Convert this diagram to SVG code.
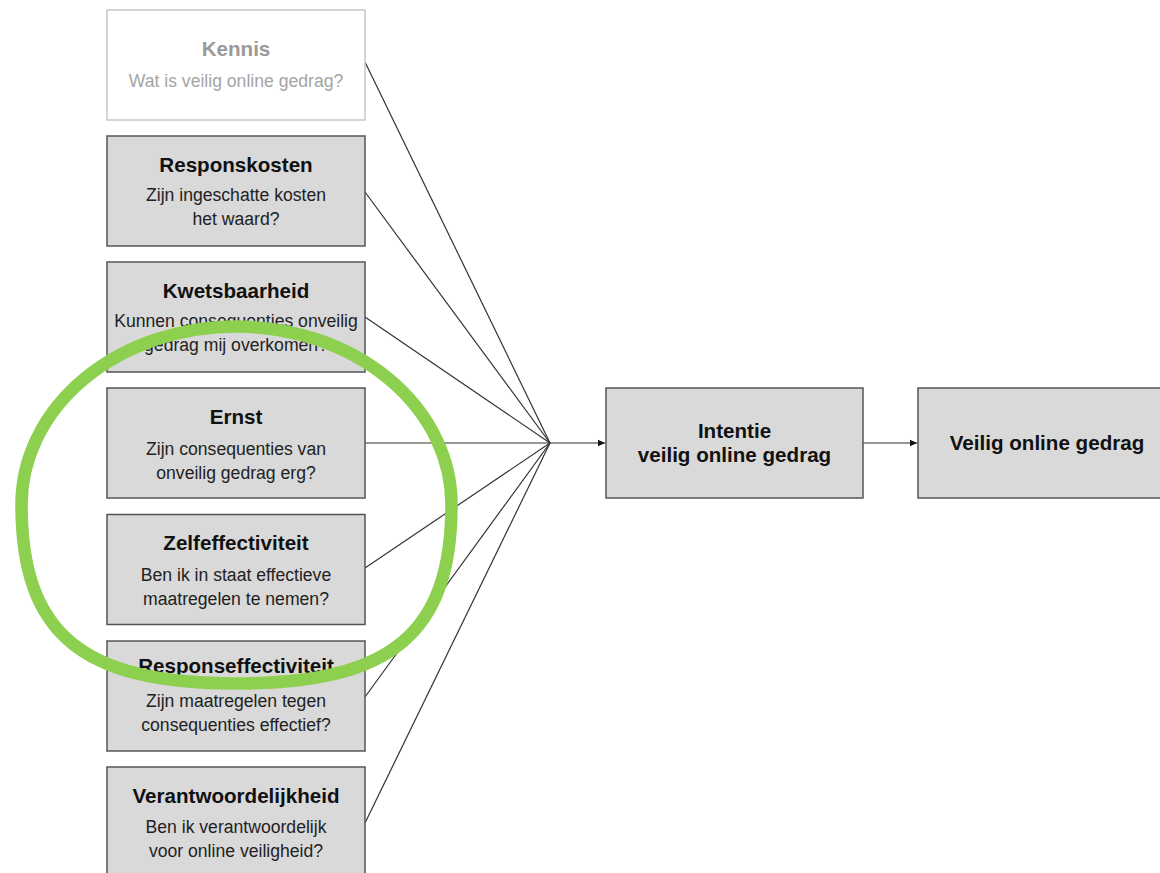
<svg xmlns="http://www.w3.org/2000/svg" width="1160" height="873" viewBox="0 0 1160 873">
<style>
.box{fill:#d9d9d9;stroke:#555;stroke-width:1.5}
.faded{fill:#fff;stroke:#c8c8c8;stroke-width:1.5}
.t{font-family:"Liberation Sans",Arial,sans-serif;font-weight:bold;font-size:20.6px;fill:#111;text-anchor:middle}
.b{font-family:"Liberation Sans",Arial,sans-serif;font-size:17.6px;fill:#222;text-anchor:middle}
.ft{fill:#9a9a9a}
.fb{fill:#a5a5a5}
.c{stroke:#333;stroke-width:1.2;fill:none}
</style>
<defs>
<marker id="arr" markerWidth="8" markerHeight="8" refX="7" refY="4" orient="auto" markerUnits="userSpaceOnUse">
<path d="M0,0.8 L7,4 L0,7.2 Z" fill="#111"/>
</marker>
</defs>
<rect width="1160" height="873" fill="#fff"/>
<g id="connectors">
<line class="c" x1="365" y1="62" x2="550" y2="443"/>
<line class="c" x1="365" y1="192" x2="550" y2="443"/>
<line class="c" x1="365" y1="317" x2="550" y2="443"/>
<line class="c" x1="365" y1="443" x2="550" y2="443"/>
<line class="c" x1="365" y1="568" x2="550" y2="443"/>
<line class="c" x1="365" y1="697" x2="550" y2="443"/>
<line class="c" x1="365" y1="823" x2="550" y2="443"/>
<line class="c" x1="550" y1="443" x2="605" y2="443" marker-end="url(#arr)"/>
<line class="c" x1="863" y1="443" x2="917" y2="443" marker-end="url(#arr)"/>
</g>
<g id="kennis">
<rect class="faded" x="107" y="10" width="258" height="110"/>
<text class="t ft" x="236" y="56">Kennis</text>
<text class="b fb" x="236" y="87">Wat is veilig online gedrag?</text>
</g>
<g id="responskosten">
<rect class="box" x="107" y="136" width="258" height="110"/>
<text class="t" x="236" y="172">Responskosten</text>
<text class="b" x="236" y="201">Zijn ingeschatte kosten</text>
<text class="b" x="236" y="225">het waard?</text>
</g>
<g id="kwetsbaarheid">
<rect class="box" x="107" y="262" width="258" height="110"/>
<text class="t" x="236" y="298">Kwetsbaarheid</text>
<text class="b" x="236" y="327">Kunnen consequenties onveilig</text>
<text class="b" x="236" y="351">gedrag mij overkomen?</text>
</g>
<g id="ernst">
<rect class="box" x="107" y="388" width="258" height="110"/>
<text class="t" x="236" y="424">Ernst</text>
<text class="b" x="236" y="455">Zijn consequenties van</text>
<text class="b" x="236" y="479">onveilig gedrag erg?</text>
</g>
<g id="zelfeffectiviteit">
<rect class="box" x="107" y="514.5" width="258" height="110"/>
<text class="t" x="236" y="550">Zelfeffectiviteit</text>
<text class="b" x="236" y="581">Ben ik in staat effectieve</text>
<text class="b" x="236" y="605">maatregelen te nemen?</text>
</g>
<g id="responseffectiviteit">
<rect class="box" x="107" y="641" width="258" height="110"/>
<text class="t" x="236" y="673">Responseffectiviteit</text>
<text class="b" x="236" y="707">Zijn maatregelen tegen</text>
<text class="b" x="236" y="731">consequenties effectief?</text>
</g>
<g id="verantwoordelijkheid">
<rect class="box" x="107" y="767" width="258" height="110"/>
<text class="t" x="236" y="803">Verantwoordelijkheid</text>
<text class="b" x="236" y="833">Ben ik verantwoordelijk</text>
<text class="b" x="236" y="857">voor online veiligheid?</text>
</g>
<g id="intentie">
<rect class="box" x="606" y="388" width="257" height="110"/>
<text class="t" x="734.5" y="438">Intentie</text>
<text class="t" x="734.5" y="462">veilig online gedrag</text>
</g>
<g id="gedrag">
<rect class="box" x="918" y="388" width="258" height="110"/>
<text class="t" x="1047" y="450">Veilig online gedrag</text>
</g>
<g id="highlight">
<path d="M21.5,504.5 A215,178 0 0 1 451.5,504.5 C451.5,633.4 391.3,683.5 236.5,683.5 C81.7,683.5 21.5,633.4 21.5,504.5 Z" fill="none" stroke="#8dcf4e" stroke-width="12.5"/>
</g>
</svg>
